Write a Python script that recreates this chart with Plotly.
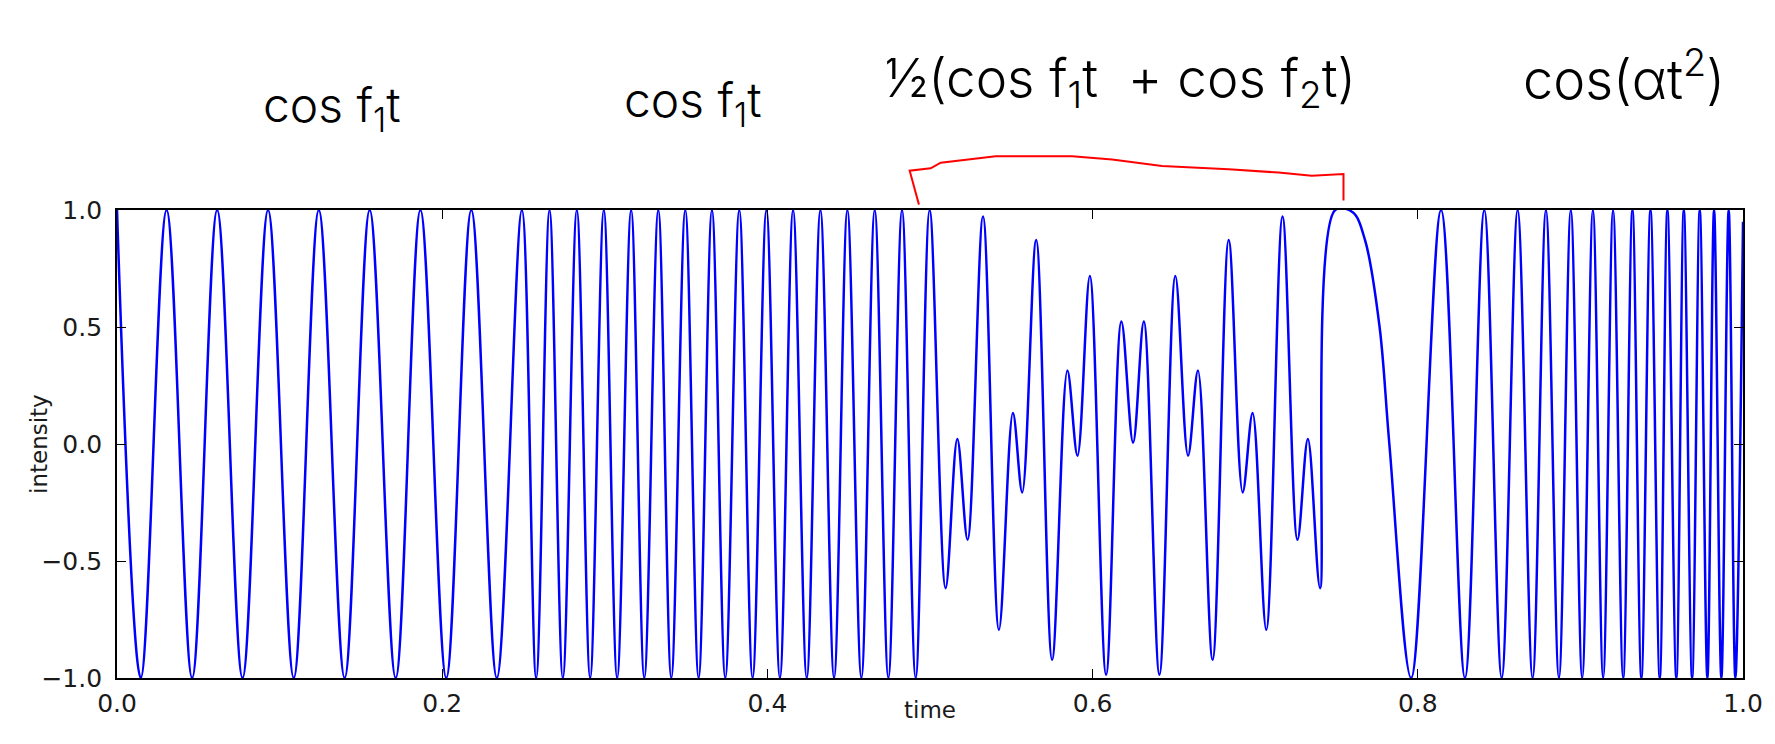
import plotly.graph_objects as go

# ---- data: extrema (time, intensity) of the signal ----
# segment 1: cos f1 t  (0 .. 0.25)
seg1_t = [0.0, 0.0146, 0.0305, 0.0462, 0.0616, 0.0772, 0.0929, 0.1087,
          0.1241, 0.1400, 0.1554, 0.1714, 0.1866, 0.2025, 0.2179, 0.2336]
seg1_v = [1, -1, 1, -1, 1, -1, 1, -1, 1, -1, 1, -1, 1, -1, 1, -1]

# segment 2: higher-frequency cosine (0.25 .. 0.5)
seg2_t = [0.2490, 0.2578, 0.2660, 0.2742, 0.2828, 0.2910, 0.2994, 0.3076,
          0.3162, 0.3243, 0.3329, 0.3409, 0.3495, 0.3577, 0.3659, 0.3741,
          0.3827, 0.3909, 0.3994, 0.4077, 0.4158, 0.4242, 0.4326, 0.4410,
          0.4492, 0.4578, 0.4660, 0.4744, 0.4828, 0.4912]
seg2_v = [1, -1, 1, -1, 1, -1, 1, -1, 1, -1, 1, -1, 1, -1, 1, -1,
          1, -1, 1, -1, 1, -1, 1, -1, 1, -1, 1, -1, 1, -1]

# segment 3: 1/2 (cos f1 t + cos f2 t)  (0.5 .. 0.75)
seg3_t = [0.4998, 0.5096, 0.5168, 0.5231, 0.5326, 0.5424, 0.5510, 0.5567,
          0.5653, 0.5751, 0.5845, 0.5907, 0.5983, 0.6083, 0.6177, 0.6249,
          0.6315, 0.6411, 0.6509, 0.6587, 0.6648, 0.6738, 0.6837, 0.6923,
          0.6984, 0.7068, 0.7168, 0.7260, 0.7324, 0.7399, 0.7492]
seg3_v = [1.0, -0.616, 0.021, -0.409, 0.972, -0.794, 0.132, -0.207,
          0.872, -0.922, 0.314, -0.050, 0.718, -0.986, 0.523, 0.006,
          0.523, -0.986, 0.718, -0.050, 0.314, -0.922, 0.872, -0.207,
          0.132, -0.794, 0.972, -0.409, 0.021, -0.616, 1.0]

# segment 4: chirp cos(alpha t^2)  (0.75 .. 1.0)
seg4_t = [0.7600, 0.7676, 0.7765, 0.7825, 0.7959, 0.8143, 0.8290, 0.8409,
          0.8516, 0.8614, 0.8706, 0.8788, 0.8868, 0.8941, 0.9011, 0.9077,
          0.9140, 0.9201, 0.9263, 0.9320, 0.9375, 0.9431, 0.9488, 0.9535,
          0.9590, 0.9636, 0.9687, 0.9734, 0.9781, 0.9822, 0.9867, 0.9912,
          0.9953, 1.0]
seg4_v = [0.99, 0.87, 0.5, 0.0, -1, 1, -1, 1,
          -1, 1, -1, 1, -1, 1, -1, 1,
          -1, 1, -1, 1, -1, 1, -1, 1,
          -1, 1, -1, 1, -1, 1, -1, 1,
          -1, 0.95]

x_ticks = [0.0, 0.2, 0.4, 0.6, 0.8, 1.0]
x_tick_labels = ["0.0", "0.2", "0.4", "0.6", "0.8", "1.0"]
y_ticks = [-1.0, -0.5, 0.0, 0.5, 1.0]
y_tick_labels = ["\u22121.0", "\u22120.5", "0.0", "0.5", "1.0"]

# red hand-drawn bracket (paper coordinates)
bracket_x = [0.4932, 0.4875, 0.5004, 0.5066, 0.5404, 0.5874, 0.6120, 0.6427,
             0.6837, 0.7144, 0.7348, 0.7543, 0.7543]
bracket_y = [1.0115, 1.084, 1.089, 1.101, 1.115, 1.115, 1.108, 1.094,
             1.087, 1.080, 1.073, 1.077, 1.0203]

t = seg1_t + seg2_t + seg3_t + seg4_t
v = seg1_v + seg2_v + seg3_v + seg4_v

FONT = "DejaVu Sans"
HAND = "Inter"

fig = go.Figure()
fig.add_trace(go.Scatter(
    x=t, y=v, mode="lines",
    line=dict(color="#0000ff", width=2.5, shape="spline", smoothing=1.0),
    showlegend=False, hoverinfo="skip",
))

axis_common = dict(
    showline=True, linecolor="black", linewidth=1.8, mirror="ticks",
    ticks="inside", ticklen=9, tickwidth=1.2, tickcolor="black",
    showgrid=False, zeroline=False,
    tickfont=dict(family=FONT, size=25, color="#1a1a1a"),
)
fig.update_xaxes(range=[0, 1], tickmode="array", tickvals=x_ticks,
                 ticktext=x_tick_labels, ticklabelstandoff=2, **axis_common)
fig.update_yaxes(range=[-1, 1], tickmode="array", tickvals=y_ticks,
                 ticktext=y_tick_labels, ticklabelstandoff=8, **axis_common)

path = "M " + " L ".join(f"{x},{y}" for x, y in zip(bracket_x, bracket_y))
fig.add_shape(type="path", path=path, xref="paper", yref="paper",
              line=dict(color="#ff0000", width=2))

annotations = [
    dict(text="time", x=0.5, y=0, xref="paper", yref="paper",
         yshift=-47, showarrow=False, font=dict(family=FONT, size=23, color="#1a1a1a")),
    dict(text="intensity", x=0, y=0.5, xref="paper", yref="paper",
         xshift=-93, textangle=-90, showarrow=False,
         font=dict(family=FONT, size=23, color="#1a1a1a")),
    dict(text="cos f<sub>1</sub>t", x=0.132, y=1.218, size=48),
    dict(text="cos f<sub>1</sub>t", x=0.354, y=1.229, size=48),
    dict(text="\u00bd(cos f<sub>1</sub>t  + cos f<sub>2</sub>t)", x=0.617, y=1.274, size=53),
    dict(text="cos(\u03b1t<sup>2</sup>)", x=0.927, y=1.288, size=54),
]
for a in annotations[2:]:
    sz = a.pop("size")
    a.update(xref="paper", yref="paper", showarrow=False,
             xanchor="center", yanchor="middle",
             font=dict(family=HAND, size=sz, color="black", weight=300))
fig.update_layout(
    annotations=annotations,
    width=1775, height=744,
    margin=dict(l=117, r=30, t=210, b=66),
    paper_bgcolor="white", plot_bgcolor="white",
)

fig.write_html("out.html")
